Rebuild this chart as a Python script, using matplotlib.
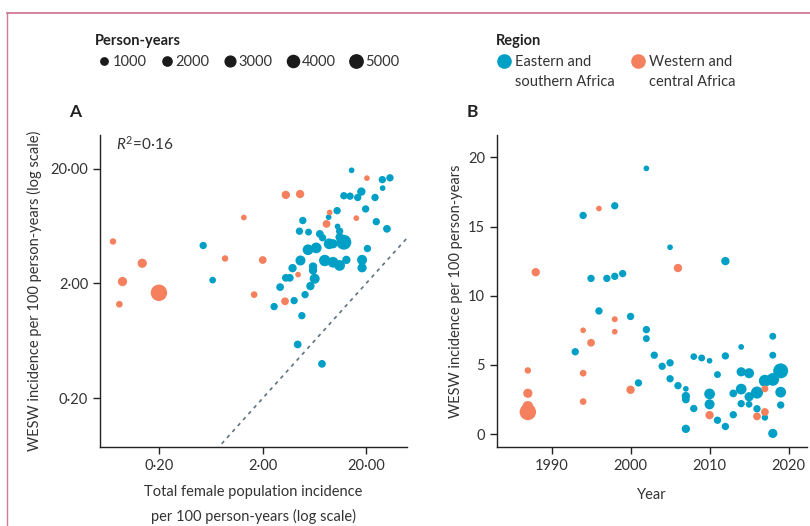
import matplotlib
matplotlib.use("Agg")
import matplotlib.pyplot as plt
import numpy as np
from matplotlib.lines import Line2D

plt.rcParams["font.family"] = ["Lato", "DejaVu Sans"]
plt.rcParams["mathtext.fontset"] = "custom"
plt.rcParams["mathtext.it"] = "Lato:italic"
plt.rcParams["mathtext.rm"] = "Lato"

BLUE = "#00a0c6"
ORANGE = "#f4805e"
TXT = "#333333"

# Panel A: total female incidence (x) vs WESW incidence (y), person-years (size)
a_east_x = [14.5, 28.7, 34.0, 28.9, 12.2, 14.0, 16.6, 18.0, 24.4, 19.8, 10.5, 8.7, 4.9,
            10.6, 25.1, 31.8, 4.55, 5.56, 11.1, 7.15, 7.6, 8.8, 12.2, 11.1, 6.6, 5.5,
            9.6, 20.6, 7.98, 9.6, 11.1, 12.9, 18.3, 18.3, 6.15, 6.15, 4.65, 3.9, 3.36,
            3.67, 6.38, 5.8, 2.96, 5.15, 4.04, 2.59, 4.8, 4.37, 7.5, 0.66, 0.535]
a_east_y = [19.3, 16.0, 16.6, 13.5, 11.6, 11.5, 11.2, 12.6, 11.2, 8.9, 8.6, 7.55, 7.06,
            6.27, 6.9, 5.98, 5.7, 5.6, 5.7, 5.4, 5.0, 4.43, 4.57, 5.06, 4.08, 3.93,
            4.43, 4.03, 3.17, 3.06, 2.87, 3.21, 3.21, 2.74, 2.81, 2.6, 3.17, 2.72, 2.24,
            2.24, 2.2, 1.9, 1.86, 1.6, 1.42, 1.26, 1.05, 0.59, 0.40, 2.14, 4.28]
a_east_py = [300, 1000, 1000, 300, 1000, 1000, 1000, 1500, 1000, 1000, 1000, 300, 1000,
             300, 1000, 1200, 1000, 800, 1000, 1200, 1000, 3000, 6500, 1500, 3000, 3000,
             2000, 1000, 3500, 3000, 3000, 1500, 2500, 2000, 1500, 1500, 2500, 1500, 1200,
             1200, 2500, 1500, 1200, 1000, 1000, 1000, 1000, 1200, 1200, 700, 1000]

a_west_x = [0.072, 0.138, 0.089, 0.20, 0.083, 0.87, 2.01, 1.32, 1.66, 3.30, 3.36, 4.61,
            4.41, 8.9, 8.3, 16.1, 20.4]
a_west_y = [4.64, 3.0, 2.08, 1.66, 1.32, 3.3, 3.2, 7.5, 1.60, 1.40, 11.8, 12.0,
            2.39, 8.3, 6.6, 7.4, 16.5]
a_west_py = [600, 2000, 2000, 8000, 700, 600, 1200, 300, 700, 1200, 1500, 1500,
             300, 300, 1200, 300, 300]

# Panel B: year vs WESW incidence
b_east_year = [1993, 1994, 1995, 1996, 1997, 1998, 1998, 1999, 2000, 2001, 2002, 2002,
               2002, 2003, 2004, 2005, 2005, 2005, 2006, 2007, 2007, 2007, 2007, 2008,
               2008, 2009, 2010, 2010, 2010, 2011, 2011, 2012, 2012, 2012, 2013, 2013,
               2014, 2014, 2014, 2014, 2015, 2015, 2015, 2016, 2016, 2017, 2017, 2018,
               2018, 2018, 2018, 2019, 2019, 2019]
b_east_inc = [5.95, 15.8, 11.25, 8.9, 11.25, 16.5, 11.4, 11.6, 8.5, 3.7, 19.2, 7.55,
              6.9, 5.7, 4.9, 13.5, 5.15, 4.0, 3.5, 3.27, 2.75, 2.5, 0.38, 5.6,
              1.85, 5.5, 5.3, 2.9, 2.15, 4.3, 1.0, 12.5, 5.65, 0.55, 2.94, 1.4,
              6.3, 4.5, 3.25, 2.2, 4.4, 2.7, 2.15, 3.0, 1.83, 3.85, 1.2, 7.07,
              5.7, 3.95, 0.05, 4.57, 3.03, 2.1]
b_east_py = [1000, 1000, 1000, 1000, 1000, 1000, 1000, 1000, 1000, 1000, 300, 1000,
             800, 1000, 1000, 300, 1000, 1000, 1000, 300, 1500, 1200, 1500, 700,
             1000, 800, 300, 3000, 2500, 800, 1000, 1500, 1000, 1000, 1200, 1000,
             300, 2000, 3000, 1000, 2500, 2000, 700, 4000, 1000, 4000, 600, 800,
             800, 4500, 2000, 6500, 3000, 1000]

b_west_year = [1987, 1987, 1987, 1987, 1988, 1994, 1994, 1994, 1995, 1996, 1998, 1998,
               2000, 2006, 2010, 2016, 2017, 2017]
b_west_inc = [4.6, 2.95, 2.0, 1.6, 11.7, 7.5, 4.4, 2.35, 6.6, 16.3, 8.3, 7.4,
              3.2, 12.0, 1.37, 1.28, 3.27, 1.6]
b_west_py = [600, 2000, 3000, 8000, 1500, 300, 700, 700, 1200, 300, 400, 300,
             1500, 1500, 1500, 1200, 800, 1200]

legend_py = [1000, 2000, 3000, 4000, 5000]
region_first = ["Eastern and", "Western and"]
region_second = ["southern Africa", "central Africa"]


def msize(py):
    return 12 + 0.016 * np.asarray(py, dtype=float)


fig = plt.figure(figsize=(8.1, 5.26), dpi=100)
axA = fig.add_axes([0.1235, 0.150, 0.379, 0.593])
axB = fig.add_axes([0.6136, 0.150, 0.3824, 0.593])

for ax in (axA, axB):
    for side in ("top", "right"):
        ax.spines[side].set_visible(False)
    for side in ("left", "bottom"):
        ax.spines[side].set_color("#222222")
        ax.spines[side].set_linewidth(1.0)
    ax.tick_params(direction="out", length=5, width=1, color="#222222",
                   labelcolor=TXT, labelsize=10.5)

# Panel A
axA.set_xscale("log")
axA.set_yscale("log")
axA.set_xlim(0.054, 49.7)
axA.set_ylim(0.0755, 39)
lx = np.array([0.054, 49.7])
axA.plot(lx, lx / 10, color="#5d7380", lw=1.2, ls=(0, (2.2, 2.6)), zorder=1)
axA.scatter(a_east_x, a_east_y, s=msize(a_east_py), color=BLUE, lw=0, zorder=2)
axA.scatter(a_west_x, a_west_y, s=msize(a_west_py), color=ORANGE, lw=0, zorder=3)
ticks = [0.2, 2, 20]
labs = ["0·20", "2·00", "20·00"]
axA.set_xticks(ticks)
axA.set_xticklabels(labs)
axA.set_yticks(ticks)
axA.set_yticklabels(labs)
axA.minorticks_off()
axA.set_xlabel("Total female population incidence\nper 100 person-years (log scale)",
               fontsize=10.5, color=TXT, labelpad=9, linespacing=1.75)
axA.set_ylabel("WESW incidence per 100 person-years (log scale)",
               fontsize=10.5, color=TXT, labelpad=6)
axA.text(0.052, 0.974, r"$\mathit{R}^2$=0·16", transform=axA.transAxes,
         fontsize=11, color=TXT, va="center", ha="left")
axA.text(-0.06, 1.05, "A", transform=axA.transAxes, fontsize=12.5,
         fontweight="bold", color="#222222", va="bottom", ha="right")

# Panel B
axB.set_xlim(1983.1, 2022.3)
axB.set_ylim(-0.94, 21.6)
axB.scatter(b_east_year, b_east_inc, s=msize(b_east_py), color=BLUE, lw=0, zorder=2)
axB.scatter(b_west_year, b_west_inc, s=msize(b_west_py), color=ORANGE, lw=0, zorder=3)
axB.set_xticks([1990, 2000, 2010, 2020])
axB.set_yticks([0, 5, 10, 15, 20])
axB.set_xlabel("Year", fontsize=10.5, color=TXT, labelpad=11)
axB.set_ylabel("WESW incidence per 100 person-years", fontsize=10.5, color=TXT,
               labelpad=4)
axB.text(-0.06, 1.05, "B", transform=axB.transAxes, fontsize=12.5,
         fontweight="bold", color="#222222", va="bottom", ha="right")

# Legends
size_handles = [Line2D([], [], marker="o", ls="", color="#1a1a1a", lw=0,
                       markersize=float(np.sqrt(msize(p)))) for p in legend_py]
leg1 = fig.legend(size_handles, [str(p) for p in legend_py], loc="upper left",
                  bbox_to_anchor=(0.117, 0.935), ncol=5, frameon=False,
                  title="Person-years", alignment="left",
                  title_fontproperties={"weight": "bold", "size": 10.5},
                  fontsize=10.5, handletextpad=0.0, columnspacing=0.8,
                  handlelength=1.2, borderpad=0, borderaxespad=0)
for t in leg1.get_texts():
    t.set_color(TXT)
leg1.get_title().set_color("#222222")

reg_handles = [Line2D([], [], marker="o", ls="", color=c, markersize=9.5)
               for c in (BLUE, ORANGE)]
leg2 = fig.legend(reg_handles, region_first,
                  loc="upper left", bbox_to_anchor=(0.612, 0.935), ncol=2,
                  frameon=False, title="Region", alignment="left",
                  title_fontproperties={"weight": "bold", "size": 10.5},
                  fontsize=10.5, handletextpad=0.1, columnspacing=2.65,
                  handlelength=1.2, borderpad=0, borderaxespad=0)
for t in leg2.get_texts():
    t.set_color(TXT)
leg2.get_title().set_color("#222222")

# second line of region labels, placed under the legend text
fig.canvas.draw()
inv = fig.transFigure.inverted()
for t, line2 in zip(leg2.get_texts(), region_second):
    bb = t.get_window_extent()
    x0, y0 = inv.transform((bb.x0, bb.y0 - 20))
    fig.text(x0, y0, line2, fontsize=10.5, color=TXT, ha="left", va="bottom")

# pink frame
frame_col = "#d4789a"
fig.add_artist(Line2D([0.0086, 1.0], [0.975, 0.975], transform=fig.transFigure,
                      color=frame_col, lw=1.3))
fig.add_artist(Line2D([0.0086, 0.0086], [0.0, 0.975], transform=fig.transFigure,
                      color=frame_col, lw=1.0))

fig.savefig("out.png", dpi=100, facecolor="white")
